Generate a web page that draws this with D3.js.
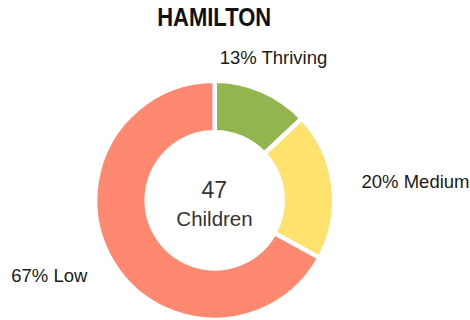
<!DOCTYPE html>
<html>
<head>
<meta charset="utf-8">
<script src="https://cdn.jsdelivr.net/npm/d3@7"></script>
<style>
  html, body { margin: 0; padding: 0; background: #fff; }
  svg { display: block; }
</style>
</head>
<body>
<svg id="chart" width="470" height="320"></svg>
<script>
// Share of children in each wellbeing band
const title = "HAMILTON";
const categories = ["Thriving", "Medium", "Low"];
const percents = [13, 20, 67];
const colors = ["#92b550", "#ffe16e", "#ff8870"];
const totalCount = 47;
const totalLabel = "Children";

const svg = d3.select("#chart");
const cx = 214.7, cy = 200.3;
const outerR = 119.5, innerR = 68, labelR = 148;

// Narrow bold heading
svg.append("text")
  .attr("x", 214.2).attr("y", 26)
  .attr("text-anchor", "middle")
  .attr("textLength", 114)
  .attr("lengthAdjust", "spacingAndGlyphs")
  .style("font-family", "'Liberation Sans Narrow', 'Arial Narrow', 'Liberation Sans', sans-serif")
  .style("font-weight", "bold")
  .style("font-size", "26px")
  .style("fill", "#111")
  .text(title);

const data = categories.map((c, i) => ({ name: c, value: percents[i], color: colors[i] }));

const pie = d3.pie().value(d => d.value).sort(null);
const arcs = pie(data);
const arc = d3.arc().innerRadius(innerR).outerRadius(outerR);
const labelArc = d3.arc().innerRadius(labelR).outerRadius(labelR);

const g = svg.append("g").attr("transform", `translate(${cx},${cy})`);

g.selectAll("path.slice")
  .data(arcs)
  .join("path")
  .attr("class", "slice")
  .attr("d", arc)
  .attr("fill", d => d.data.color)
  .attr("stroke", "#fff")
  .attr("stroke-width", 4.5)
  .attr("stroke-linejoin", "miter");

// Outside labels: box edge touches the point on the label ring
g.selectAll("text.lbl")
  .data(arcs)
  .join("text")
  .attr("class", "lbl")
  .each(function(d) {
    const [px, py] = labelArc.centroid(d);
    const a = (d.startAngle + d.endAngle) / 2;
    const sx = Math.sin(a), sy = -Math.cos(a);
    const t = d3.select(this);
    t.attr("x", px).attr("y", py);
    if (Math.abs(sx) < 0.5) {
      t.attr("text-anchor", "middle").attr("dy", sy < 0 ? "0" : "0.72em");
    } else {
      t.attr("text-anchor", sx > 0 ? "start" : "end").attr("dy", "0.35em");
    }
  })
  .style("font-family", "'Liberation Sans', Arial, sans-serif")
  .style("font-size", "18.5px")
  .style("fill", "#1a1a1a")
  .text(d => `${d.data.value}% ${d.data.name}`);

// Centre total
g.append("text")
  .attr("x", -0.5).attr("y", -2)
  .attr("text-anchor", "middle")
  .style("font-family", "'Liberation Sans', Arial, sans-serif")
  .style("font-size", "23px")
  .style("fill", "#333")
  .text(totalCount);

g.append("text")
  .attr("x", -0.2).attr("y", 26)
  .attr("text-anchor", "middle")
  .style("font-family", "'Liberation Sans', Arial, sans-serif")
  .style("font-size", "20.5px")
  .style("fill", "#333")
  .text(totalLabel);
</script>
</body>
</html>
